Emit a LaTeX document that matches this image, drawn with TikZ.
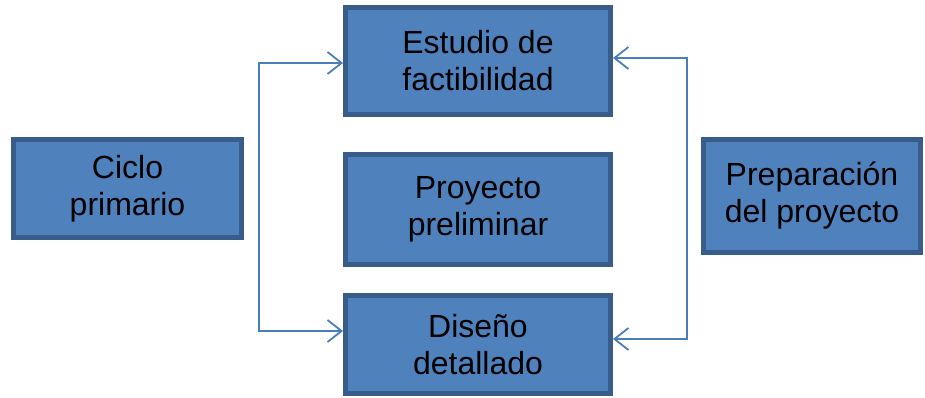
\documentclass[tikz,border=0pt]{standalone}
\usepackage{fontspec}
\setmainfont{Liberation Sans}
\usetikzlibrary{arrows.meta}
\definecolor{boxfill}{HTML}{4F81BD}
\definecolor{boxline}{HTML}{385D8A}
\definecolor{connc}{HTML}{4A7EBB}
\begin{document}
\begin{tikzpicture}[x=1pt,y=-1pt,
  box/.style={draw=boxline, fill=boxfill, line width=5pt, rectangle, align=center,
    inner sep=0pt, font=\fontsize{32}{37}\selectfont, text=black},
  conn/.style={draw=connc, line width=1.8pt, {Straight Barb[length=14pt,width=22pt,line width=1.8pt]}-{Straight Barb[length=14pt,width=22pt,line width=1.8pt]}}]
\useasboundingbox (0,0) rectangle (925,398);
\node[box, minimum width=228pt, minimum height=98pt] (cic) at (127.5,188.5) {Ciclo\\primario};
\node[box, minimum width=265pt, minimum height=107pt] (est) at (478,61) {Estudio de\\factibilidad};
\node[box, minimum width=265pt, minimum height=110pt] (pro) at (478,209.5) {Proyecto\\preliminar};
\node[box, minimum width=265pt, minimum height=98pt] (dis) at (478,344.5) {Diseño\\detallado};
\node[box, minimum width=217pt, minimum height=113pt] (pre) at (812,196) {Preparación\\del proyecto};
\coordinate (lt) at (259,63);
\coordinate (lb) at (259,331);
\coordinate (rt) at (687,58);
\coordinate (rb) at (687,339);
\draw[conn] (lt -| est.west) -- (lt) -- (lb) -- (lb -| dis.west);
\draw[conn] (rt -| est.east) -- (rt) -- (rb) -- (rb -| dis.east);
\end{tikzpicture}
\end{document}
